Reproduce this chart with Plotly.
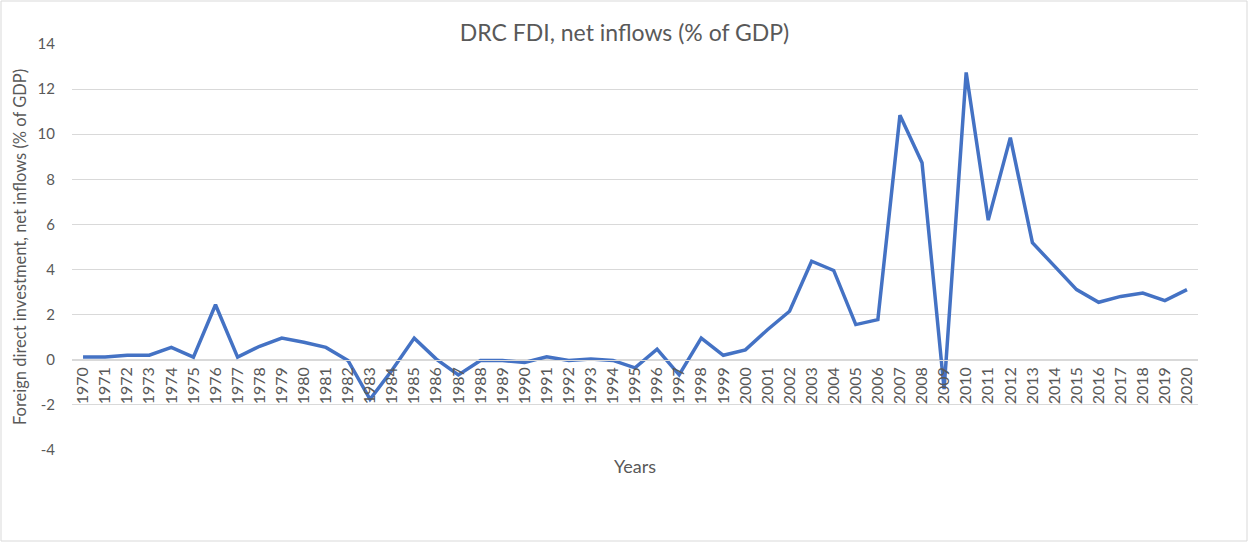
import plotly.graph_objects as go

years = [str(y) for y in range(1970, 2021)]
fdi = [0.12, 0.12, 0.20, 0.20, 0.55, 0.12, 2.44, 0.12, 0.60, 0.96,
       0.78, 0.55, -0.03, -1.75, -0.45, 0.96, 0.03, -0.67, -0.03, -0.03,
       -0.12, 0.13, -0.03, 0.04, -0.03, -0.36, 0.47, -0.67, 0.96, 0.20,
       0.44, 1.33, 2.15, 4.37, 3.96, 1.56, 1.78, 10.84, 8.74, -1.30,
       12.74, 6.19, 9.85, 5.19, 4.15, 3.11, 2.55, 2.81, 2.96, 2.62, 3.11]
y_tickvals = [-4, -2, 0, 2, 4, 6, 8, 10, 12, 14]
y_ticktext = ["-4", "-2", "0", "2", "4", "6", "8", "10", "12", "14"]

title_text = "DRC FDI, net inflows (% of GDP)"
x_title = "Years"
y_title = "Foreign direct investment, net inflows (% of GDP)"

W, H = 1249, 542
ml, mr, mt, mb = 72, 51, 44, 92
pw, ph = W - ml - mr, H - mt - mb
ymin, ymax = -4, 14

font_family = "Lato, 'Open Sans', sans-serif"
grey = "#595959"
grid = "#d9d9d9"

fig = go.Figure()
fig.add_trace(go.Scatter(
    x=years, y=fdi, mode="lines",
    line=dict(color="#4472C4", width=3.5),
    showlegend=False,
))

fig.update_layout(
    width=W, height=H,
    margin=dict(l=ml, r=mr, t=mt, b=mb),
    paper_bgcolor="white", plot_bgcolor="white",
    font=dict(family=font_family, color=grey),
    title=dict(text=title_text, x=0.5, xanchor="center", y=1 - 33 / H,
               yanchor="middle", font=dict(size=23, color=grey)),
    xaxis=dict(
        type="category", range=[-0.5, len(years) - 0.5],
        anchor="free", position=(0 - ymin) / (ymax - ymin),
        showgrid=False, showline=True, linecolor=grid, linewidth=1,
        ticks="", tickangle=-90, tickfont=dict(size=16, color=grey),
        title=dict(text=x_title, font=dict(size=18, color=grey), standoff=57),
        zeroline=False,
    ),
    yaxis=dict(
        range=[ymin, ymax], tickvals=y_tickvals, ticktext=y_ticktext,
        showgrid=True, gridcolor=grid, gridwidth=1,
        zeroline=False, showline=False, ticks="",
        ticklabelstandoff=16,
        tickfont=dict(size=15, color=grey),
        title=dict(text=y_title, font=dict(size=16.5, color=grey), standoff=6),
    ),
    shapes=[dict(
        type="rect", xref="paper", yref="paper",
        x0=(1 - ml) / pw, x1=(W - 2 - ml) / pw,
        y0=-(H - 1 - (H - mb)) / ph, y1=(H - mb - 1) / ph,
        line=dict(color=grid, width=1), fillcolor="rgba(0,0,0,0)", layer="below",
    )],
)

fig.write_html("out.html")
